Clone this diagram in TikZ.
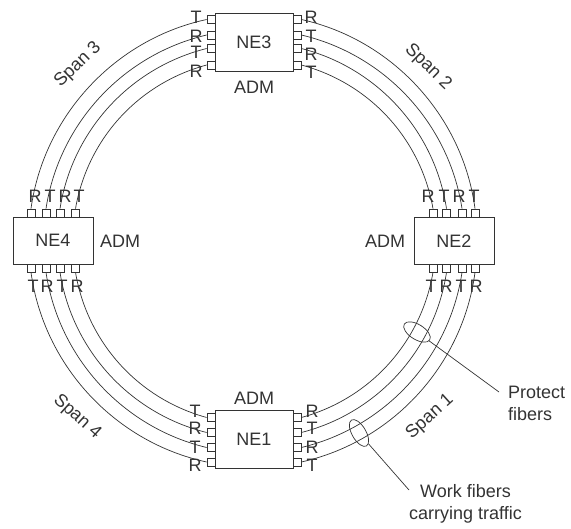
\documentclass[tikz,border=0pt]{standalone}
\usepackage{fontspec}
\usetikzlibrary{shapes.geometric}
\setmainfont{Liberation Sans}
\definecolor{ink}{gray}{0.2}
\tikzset{
  x=1pt,y=-1pt,
  box/.style={draw=ink,line width=0.8pt,minimum width=78pt,minimum height=58pt,inner sep=0pt,text=ink,font=\fontsize{18}{18}\selectfont},
  boxw/.style={box,minimum width=80pt,minimum height=47pt},
  port/.style={draw=ink,line width=0.7pt,fill=white,minimum width=8pt,minimum height=8pt,inner sep=0pt},
  lab/.style={text=ink,inner sep=0pt,font=\fontsize{18}{18}\selectfont},
  small/.style={text=ink,inner sep=0pt,align=left,font=\fontsize{18}{22}\selectfont},
  fib/.style={draw=ink,line width=0.7pt,looseness=0.93},
  r1/.style={fib,bend left=35},
  r2/.style={fib,bend left=34},
  r3/.style={fib,bend left=33.5},
  r4/.style={fib,bend left=32.5},
  hoop/.style={draw=ink,line width=0.7pt,fill=none,ellipse,inner sep=0pt},
  lead/.style={draw=ink,line width=0.7pt},
}
\begin{document}
\begin{tikzpicture}
\useasboundingbox (0,0) rectangle (571,529);
% boxes
\node[box] (ne3) at (254,42) {NE3};
\node[box] (ne1) at (254,439.5) {NE1};
\node[boxw] (ne4) at (53,240.5) {NE4};
\node[boxw] (ne2) at (454,241) {NE2};
% ports of NE3 and NE1
\foreach \n/\y in {1/19.5,2/35,3/48.5,4/65}{
  \node[port] (c\n l) at (211,\y) {};
  \node[port] (c\n r) at (297,\y) {};
}
\foreach \n/\y in {1/417.5,2/432.5,3/447.5,4/462}{
  \node[port] (a\n l) at (211,\y) {};
  \node[port] (a\n r) at (297,\y) {};
}
% ports of NE4 and NE2
\foreach \n/\x in {1/31,2/46,3/60,4/75.5}{
  \node[port] (d\n t) at (\x,213) {};
  \node[port] (d\n b) at (\x,268) {};
}
\foreach \n/\x in {1/433,2/446.5,3/462,4/475}{
  \node[port] (b\n t) at (\x,213) {};
  \node[port] (b\n b) at (\x,268) {};
}
% fibres: span 2
\draw[fib] (c1r.east) to[r1] (b4t.north);
\draw[fib] (c2r.east) to[r2] (b3t.north);
\draw[fib] (c3r.east) to[r3] (b2t.north);
\draw[fib] (c4r.east) to[r4] (b1t.north);
% span 3
\draw[fib] (d1t.north) to[r1] (c1l.west);
\draw[fib] (d2t.north) to[r2] (c2l.west);
\draw[fib] (d3t.north) to[r3] (c3l.west);
\draw[fib] (d4t.north) to[r4] (c4l.west);
% span 1
\draw[fib] (b4b.south) to[r1] (a4r.east);
\draw[fib] (b3b.south) to[r2] (a3r.east);
\draw[fib] (b2b.south) to[r3] (a2r.east);
\draw[fib] (b1b.south) to[r4] (a1r.east);
% span 4
\draw[fib] (a4l.west) to[r1] (d1b.south);
\draw[fib] (a3l.west) to[r2] (d2b.south);
\draw[fib] (a2l.west) to[r3] (d3b.south);
\draw[fib] (a1l.west) to[r4] (d4b.south);
% port letters
\foreach \n/\t/\y in {1/T/17,2/R/36,3/T/52,4/R/71}{\node[lab] (cl\n) at (196,\y) {\t};}
\foreach \n/\t/\y in {1/R/17,2/T/36,3/R/54,4/T/72}{\node[lab] (cr\n) at (311,\y) {\t};}
\foreach \n/\t/\y in {1/T/411,2/R/428,3/T/447,4/R/465}{\node[lab] (al\n) at (195,\y) {\t};}
\foreach \n/\t/\y in {1/R/411,2/T/428,3/R/447,4/T/465}{\node[lab] (ar\n) at (312,\y) {\t};}
\foreach \n/\t/\x in {1/R/35,2/T/50,3/R/65,4/T/79}{\node[lab] (dt\n) at (\x,196) {\t};}
\foreach \n/\t/\x in {1/T/33,2/R/47,3/T/62,4/R/77}{\node[lab] (db\n) at (\x,286) {\t};}
\foreach \n/\t/\x in {1/R/428,2/T/444,3/R/459,4/T/474}{\node[lab] (bt\n) at (\x,196) {\t};}
\foreach \n/\t/\x in {1/T/431,2/R/446,3/T/461,4/R/476}{\node[lab] (bb\n) at (\x,286) {\t};}
% ADM
\node[lab] (adm3) at (254,87) {ADM};
\node[lab] (adm1) at (254,398) {ADM};
\node[lab] (adm4) at (120,241) {ADM};
\node[lab] (adm2) at (385,241) {ADM};
% spans
\node[lab,rotate=44] (s3) at (78,65) {Span 3};
\node[lab,rotate=-44] (s2) at (428,67) {Span 2};
\node[lab,rotate=-42] (s4) at (77,417) {Span 4};
\node[lab,rotate=42] (s1) at (430,417) {Span 1};
% groups
\node[hoop,minimum width=30pt,minimum height=15pt,rotate=-32] (pf) at (417,332) {};
\node[hoop,minimum width=30pt,minimum height=14pt,rotate=-60] (wf) at (359,433) {};
\node[small,anchor=west] (ptxt) at (508,403) {Protect\\fibers};
\node[small,align=center] (wtxt) at (465.5,504) {Work fibers\\carrying traffic};
\coordinate (pe) at (499,392);
\coordinate (we) at (409,490);
\draw[lead] (pf) -- (pe);
\draw[lead] (wf) -- (we);
\end{tikzpicture}
\end{document}
